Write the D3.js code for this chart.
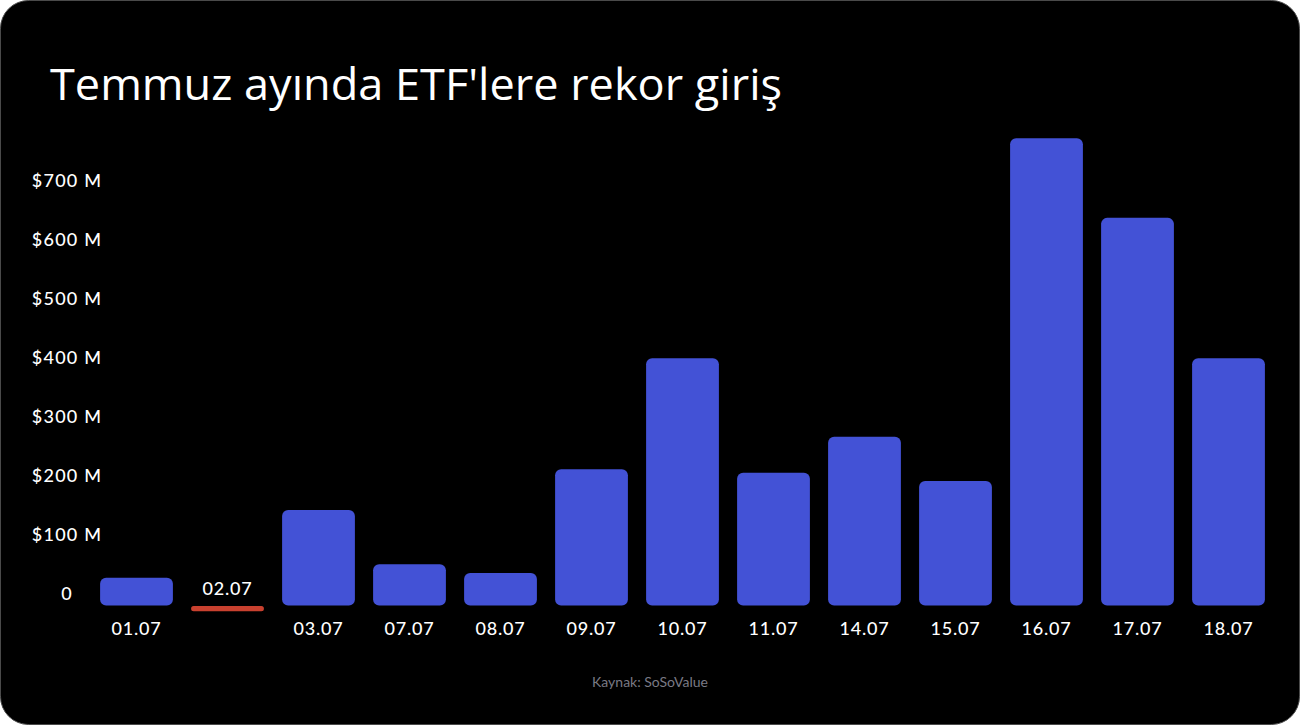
<!DOCTYPE html>
<html>
<head>
<meta charset="utf-8">
<script src="https://cdn.jsdelivr.net/npm/d3@7/dist/d3.min.js"></script>
<style>
  html, body { margin: 0; padding: 0; background: #ffffff; }
  svg { display: block; }
</style>
</head>
<body>
<svg id="chart" width="1300" height="725"></svg>
<script>
const categories = ["01.07","02.07","03.07","07.07","08.07","09.07","10.07","11.07","14.07","15.07","16.07","17.07","18.07"];
const values = [47, -9, 162, 70, 55, 231, 419, 225, 286, 211, 792, 657, 419];
const yTicks = [0, 100, 200, 300, 400, 500, 600, 700];
const yTickLabels = ["0", "$100 M", "$200 M", "$300 M", "$400 M", "$500 M", "$600 M", "$700 M"];
const title = "Temmuz ayında ETF'lere rekor giriş";
const source = "Kaynak: SoSoValue";

const W = 1300, H = 725;
const font = "Lato, 'Open Sans', sans-serif";
const svg = d3.select("#chart");

svg.append("rect")
  .attr("x", 0.5).attr("y", 0.5)
  .attr("width", W - 1).attr("height", H - 1)
  .attr("rx", 28).attr("ry", 28)
  .attr("fill", "#000").attr("stroke", "#4a4a4a").attr("stroke-width", 1);

svg.append("text")
  .attr("x", 50).attr("y", 100)
  .attr("fill", "#fff")
  .attr("font-family", "'Open Sans', Lato, sans-serif")
  .attr("font-size", 44)
  .attr("font-weight", 400)
  .attr("textLength", 732)
  .attr("lengthAdjust", "spacingAndGlyphs")
  .text(title);

const x = d3.scaleBand()
  .domain(categories)
  .range([91, 1274])
  .paddingInner(0.2)
  .paddingOuter(0.1);

const y = d3.scaleLinear()
  .domain([0, 700])
  .range([605.5, 192.5]);

// y axis labels
const yAxis = d3.axisLeft(y)
  .tickValues(yTicks)
  .tickFormat((d, i) => yTickLabels[i])
  .tickSize(0);

const yg = svg.append("g").attr("transform", "translate(67,0)").call(yAxis);
yg.select(".domain").remove();
yg.selectAll("text")
  .attr("x", 0)
  .attr("dy", "-0.35em")
  .attr("text-anchor", "middle")
  .attr("fill", "#fff")
  .attr("font-family", font)
  .attr("font-size", 18)
  .attr("letter-spacing", 1.2)
  .attr("font-weight", 500);

// bars
const r = 6;
svg.append("g").selectAll("rect")
  .data(values)
  .join("rect")
  .attr("x", (d, i) => x(categories[i]))
  .attr("width", x.bandwidth())
  .attr("y", d => d >= 0 ? y(d) : y(0) + 0.5)
  .attr("height", d => Math.max(5, Math.abs(y(d) - y(0))))
  .attr("rx", d => d >= 0 ? r : 2.5)
  .attr("fill", d => d >= 0 ? "#4352d6" : "#c9412f");

// x labels
svg.append("g").selectAll("text")
  .data(values)
  .join("text")
  .attr("x", (d, i) => x(categories[i]) + x.bandwidth() / 2)
  .attr("y", d => d >= 0 ? y(0) + 29 : y(0) - 11)
  .attr("text-anchor", "middle")
  .attr("fill", "#fff")
  .attr("font-family", font)
  .attr("font-size", 18)
  .attr("letter-spacing", 0.8)
  .attr("font-weight", 500)
  .text((d, i) => categories[i]);

svg.append("text")
  .attr("x", 650).attr("y", 687)
  .attr("text-anchor", "middle")
  .attr("fill", "#7a7a85")
  .attr("font-family", font)
  .attr("font-size", 14)
  .text(source);
</script>
</body>
</html>
